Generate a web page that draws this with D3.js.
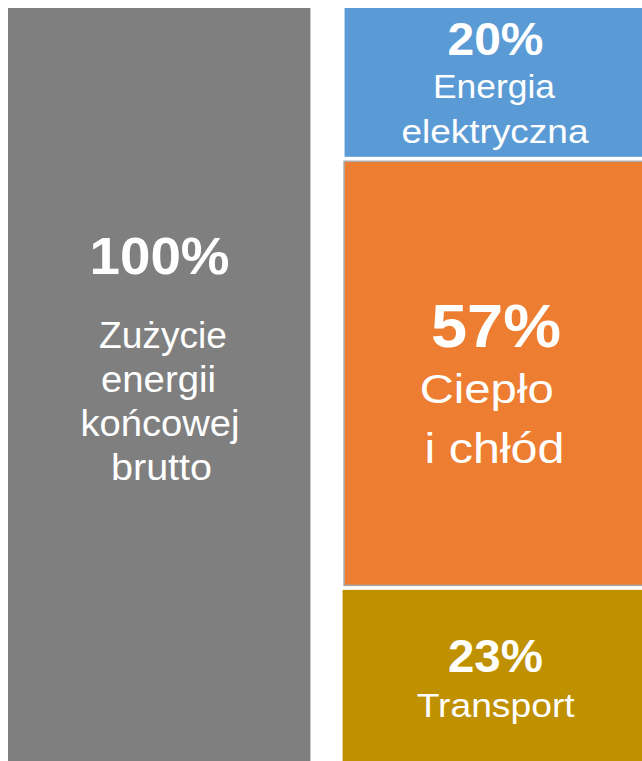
<!DOCTYPE html>
<html>
<head>
<meta charset="utf-8">
<script src="https://cdn.jsdelivr.net/npm/d3@7"></script>
<style>
  html, body { margin: 0; padding: 0; background: #ffffff; overflow: hidden; }
  svg { display: block; }
</style>
</head>
<body>
<svg id="chart" width="642" height="761"></svg>
<script>
// ---- data ----
const columns = ["total", "breakdown"];
const totalValue = [100];
const totalLabel = ["100%"];
const totalLines = ["Zużycie", "energii", "końcowej", "brutto"];

const categories = ["Energia elektryczna", "Ciepło i chłód", "Transport"];
const shares = [20, 57, 23];
const shareLabels = ["20%", "57%", "23%"];
const categoryLines = [["Energia", "elektryczna"], ["Ciepło", "i chłód"], ["Transport"]];

// ---- style / layout ----
const W = 642, H = 761;
const colors = { total: "#7f7f7f", cats: ["#5b9bd5", "#ed7d31", "#bf9000"] };
const FONT = "'Liberation Sans', Arial, Helvetica, sans-serif";
const gap = 4.5;

const svg = d3.select("#chart");

const x = d3.scaleBand().domain(columns).range([8, W + 3]).paddingInner(0.096).paddingOuter(0);
const yL = d3.scaleLinear().domain([0, d3.sum(totalValue)]).range([8, H]);
const yR = d3.scaleLinear().domain([0, d3.sum(shares)]).range([8, H - gap * (shares.length - 1)]);

// left bar
svg.append("rect")
  .attr("x", x("total")).attr("width", x.bandwidth())
  .attr("y", yL(0)).attr("height", yL(totalValue[0]) - yL(0))
  .attr("fill", colors.total);

// right stack
let cum = 0;
const segs = shares.map((v, i) => {
  const s = { i, v, top: yR(cum) + i * gap, bottom: yR(cum + v) + i * gap };
  cum += v;
  return s;
});

svg.selectAll("rect.seg").data(segs).join("rect")
  .attr("class", "seg")
  .attr("x", d => x("breakdown") + (d.i === 0 ? 2 : d.i === 1 ? 1.5 : 0))
  .attr("width", d => x.bandwidth() - (d.i === 0 ? 2 : d.i === 1 ? 1.5 : 0))
  .attr("y", d => d.top)
  .attr("height", d => d.bottom - d.top)
  .attr("fill", d => colors.cats[d.i])
  .attr("stroke", d => d.i === 1 ? "#a9a9a9" : "none")
  .attr("stroke-width", 1.5);

function label(t, cx, by, size, bold, tl) {
  const el = svg.append("text")
    .attr("x", cx).attr("y", by)
    .attr("text-anchor", "middle")
    .attr("fill", "#ffffff")
    .attr("font-family", FONT)
    .attr("font-size", size)
    .attr("font-weight", bold ? "bold" : "normal")
    .text(t);
  if (tl) el.attr("textLength", tl).attr("lengthAdjust", "spacingAndGlyphs");
  return el;
}

// left labels (relative to bar centre)
const lc = 8 + (x("total") + x.bandwidth() - 8) / 2;
const lm = (yL(0) + yL(totalValue[0])) / 2;
label(totalLabel[0], lc + 0.3, lm - 110.5, 52, true, 140);
const leftSpec = [[3.8, -36.5, 128], [-0.7, 7.5, 115], [0.8, 51.5, 159], [2.3, 95.5, 101]];
totalLines.forEach((t, k) => label(t, lc + leftSpec[k][0], lm + leftSpec[k][1], 37, false, leftSpec[k][2]));

// right labels (relative to visible column centre)
const rc = (x("breakdown") + W) / 2;
// blue: relative to top
{
  const s = segs[0];
  label(shareLabels[0], rc + 3.2, s.top + 47, 46, true, 96);
  label(categoryLines[0][0], rc + 1.7, s.top + 90.3, 34, false, 122);
  label(categoryLines[0][1], rc + 2.7, s.top + 135.3, 34, false, 187);
}
// orange: relative to centre
{
  const s = segs[1];
  const m = (s.top + s.bottom) / 2;
  label(shareLabels[1], rc + 3.7, m - 26, 62, true, 130);
  label(categoryLines[1][0], rc - 5.6, m + 30, 41, false, 134);
  label(categoryLines[1][1], rc + 2.2, m + 90, 42, false, 140);
}
// gold: relative to centre
{
  const s = segs[2];
  const m = (s.top + s.bottom) / 2;
  label(shareLabels[2], rc + 3.2, m - 3, 46, true, 95);
  label(categoryLines[2][0], rc + 3.4, m + 42, 33, false, 158);
}
</script>
</body>
</html>
